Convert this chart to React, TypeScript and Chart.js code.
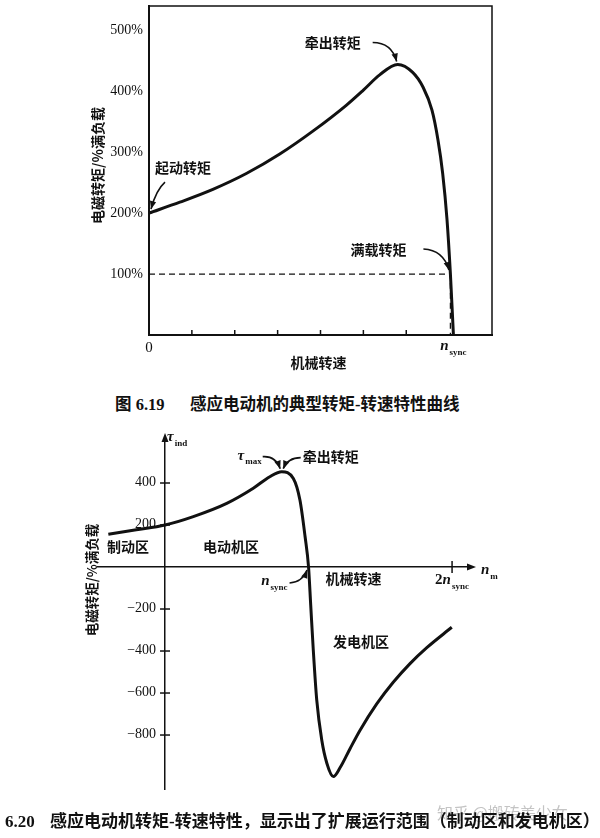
import React, { useEffect, useRef } from 'react';
import { Chart, registerables } from 'chart.js';

Chart.register(...registerables);

// ---------- Figure 6.19 (top) ----------
const TOP_SPEED = [0, 0.72, 1.49, 2.27, 3.05, 3.83, 4.6, 5.0, 5.38, 5.8, 6.15, 6.39, 6.6, 6.74, 6.85, 6.95, 7.03, 7.1];
const TOP_TORQUE = [200, 218, 239, 265, 297, 335, 377, 402, 427, 444, 431, 407, 369, 320, 265, 190, 100, 0];
const TOP_Y_TICKS = [100, 200, 300, 400, 500];
const TOP_X_MARKS = [1, 2, 3, 4, 5, 6];
const TOP_X_RANGE = [0, 8];
const TOP_Y_RANGE = [0, 540];
const TOP_NSYNC = 7.1;
const FULL_LOAD = { speed: 7.03, torque: 100 };
const PULLOUT_TOP = { speed: 5.8, torque: 444 };
const START_TOP = { speed: 0, torque: 200 };

// ---------- Figure 6.20 (bottom) ----------
const BOT_SPEED = [-0.395, -0.2, 0, 0.197, 0.43, 0.615, 0.73, 0.813, 0.894, 0.94, 0.976, 1.0, 1.015, 1.033, 1.057, 1.092, 1.127, 1.173, 1.22, 1.289, 1.359, 1.475, 1.59, 1.707, 1.824, 1.998];
const BOT_TORQUE = [156, 177, 200, 240, 303, 375, 430, 454, 422, 319, 144, 0, -180, -395, -633, -824, -933, -998, -955, -865, -777, -652, -549, -460, -384, -287];
const BOT_Y_TICKS = [-800, -600, -400, -200, 200, 400];
const BOT_X_RANGE = [-0.467, 2.111];
const BOT_Y_RANGE = [-1057, 600];
const BOT_NSYNC = 1;
const BOT_2NSYNC = 2;
const BOT_PEAK = { speed: 0.813, torque: 454 };

const CJK = '"Noto Sans CJK SC", sans-serif';
const SERIF = '"Liberation Serif", "Times New Roman", serif';
const INK = '#111';

function arrow(ctx: CanvasRenderingContext2D, x0: number, y0: number, cx: number, cy: number, x1: number, y1: number) {
  ctx.lineWidth = 1.6;
  ctx.beginPath();
  ctx.moveTo(x0, y0);
  ctx.quadraticCurveTo(cx, cy, x1, y1);
  ctx.stroke();
  const ang = Math.atan2(y1 - cy, x1 - cx);
  const L = 8, W = 3.2;
  const c = Math.cos(ang), s = Math.sin(ang);
  ctx.beginPath();
  ctx.moveTo(x1, y1);
  ctx.lineTo(x1 - L * c + W * s, y1 - L * s - W * c);
  ctx.lineTo(x1 - L * c - W * s, y1 - L * s + W * c);
  ctx.closePath();
  ctx.fill();
}

function subLabel(ctx: CanvasRenderingContext2D, x: number, y: number, pre: string, main: string, sub: string, size: number, align: string) {
  const fPre = `bold ${size}px ${SERIF}`;
  const fMain = `italic bold ${size}px ${SERIF}`;
  const fSub = `bold ${Math.round(size * 0.62)}px ${SERIF}`;
  ctx.textBaseline = 'alphabetic';
  ctx.textAlign = 'left';
  ctx.font = fPre; const w1 = pre ? ctx.measureText(pre).width : 0;
  ctx.font = fMain; const w2 = ctx.measureText(main).width;
  ctx.font = fSub; const w3 = ctx.measureText(sub).width;
  const total = w1 + w2 + 1 + w3;
  let sx = align === 'center' ? x - total / 2 : align === 'right' ? x - total : x;
  if (pre) { ctx.font = fPre; ctx.fillText(pre, sx, y); }
  sx += w1;
  ctx.font = fMain; ctx.fillText(main, sx, y);
  sx += w2 + 1;
  ctx.font = fSub; ctx.fillText(sub, sx, y + size * 0.3);
}

function cjk(ctx: CanvasRenderingContext2D, text: string, x: number, y: number, align: CanvasTextAlign = 'left', size = 14) {
  ctx.font = `bold ${size}px ${CJK}`;
  ctx.textAlign = align;
  ctx.textBaseline = 'middle';
  ctx.fillText(text, x, y);
}

const topDecor = {
  id: 'topDecor',
  afterDatasetsDraw(chart: any) {
    const { ctx, chartArea: a, scales: { x, y } } = chart;
    ctx.save();
    ctx.strokeStyle = INK;
    ctx.fillStyle = INK;
    ctx.lineWidth = 1.5;
    ctx.beginPath();
    ctx.moveTo(a.left, a.top);
    ctx.lineTo(a.right, a.top);
    ctx.lineTo(a.right, a.bottom);
    ctx.stroke();
    TOP_X_MARKS.forEach((v) => {
      const px = x.getPixelForValue(v);
      ctx.beginPath();
      ctx.moveTo(px, a.bottom);
      ctx.lineTo(px, a.bottom - 5);
      ctx.stroke();
    });
    subLabel(ctx, x.getPixelForValue(TOP_NSYNC), a.bottom + 15, '', 'n', 'sync', 15, 'center');
    cjk(ctx, '机械转速', (a.left + a.right) / 2 - 2, a.bottom + 28, 'center');
    ctx.save();
    ctx.translate(a.left - 51, (a.top + a.bottom) / 2 - 5);
    ctx.rotate(-Math.PI / 2);
    cjk(ctx, '电磁转矩/%满负载', 0, 0, 'center');
    ctx.restore();
    const s = { x: x.getPixelForValue(START_TOP.speed), y: y.getPixelForValue(START_TOP.torque) };
    cjk(ctx, '起动转矩', s.x + 6, s.y - 45);
    arrow(ctx, s.x + 16, s.y - 31, s.x + 7, s.y - 23, s.x + 2, s.y - 4);
    const p = { x: x.getPixelForValue(PULLOUT_TOP.speed), y: y.getPixelForValue(PULLOUT_TOP.torque) };
    cjk(ctx, '牵出转矩', p.x - 93, p.y - 22);
    arrow(ctx, p.x - 25, p.y - 22, p.x - 6, p.y - 22, p.x - 1, p.y - 3);
    const f = { x: x.getPixelForValue(FULL_LOAD.speed), y: y.getPixelForValue(FULL_LOAD.torque) };
    cjk(ctx, '满载转矩', f.x - 100, f.y - 24);
    arrow(ctx, f.x - 27, f.y - 25, f.x - 7, f.y - 24, f.x - 1.5, f.y - 4);
    ctx.restore();
  },
};

const botDecor = {
  id: 'botDecor',
  afterDatasetsDraw(chart: any) {
    const { ctx, chartArea: a, scales: { x, y } } = chart;
    const x0 = x.getPixelForValue(0);
    const y0 = y.getPixelForValue(0);
    ctx.save();
    ctx.strokeStyle = INK;
    ctx.fillStyle = INK;
    ctx.beginPath();
    ctx.moveTo(a.right + 8, y0);
    ctx.lineTo(a.right - 1, y0 - 3.5);
    ctx.lineTo(a.right - 1, y0 + 3.5);
    ctx.closePath();
    ctx.fill();
    ctx.beginPath();
    ctx.moveTo(x0, a.top - 8);
    ctx.lineTo(x0 - 3.5, a.top + 1);
    ctx.lineTo(x0 + 3.5, a.top + 1);
    ctx.closePath();
    ctx.fill();
    ctx.lineWidth = 1.5;
    y.ticks.forEach((t: any) => {
      const py = y.getPixelForValue(t.value);
      ctx.beginPath();
      ctx.moveTo(x0 - 5, py);
      ctx.lineTo(x0 + 5, py);
      ctx.stroke();
      ctx.font = `14px ${SERIF}`;
      ctx.textAlign = 'right';
      ctx.textBaseline = 'middle';
      ctx.fillText(t.value < 0 ? '\u2212' + Math.abs(t.value) : String(t.value), x0 - 9, py - 1);
    });
    const x2 = x.getPixelForValue(BOT_2NSYNC);
    ctx.beginPath();
    ctx.moveTo(x2, y0 - 6);
    ctx.lineTo(x2, y0 + 6);
    ctx.stroke();
    subLabel(ctx, x0 + 2, a.top, '', 'τ', 'ind', 15, 'left');
    subLabel(ctx, a.right + 13, y0 + 7, '', 'n', 'm', 15, 'left');
    subLabel(ctx, x2 - 17, y0 + 17, '2', 'n', 'sync', 15, 'left');
    const n = { x: x.getPixelForValue(BOT_NSYNC), y: y0 };
    subLabel(ctx, n.x - 21, n.y + 18, '', 'n', 'sync', 15, 'right');
    arrow(ctx, n.x - 19, n.y + 16, n.x - 6, n.y + 15, n.x - 1.5, n.y + 3);
    cjk(ctx, '机械转速', n.x + 17, n.y + 12);
    const p = { x: x.getPixelForValue(BOT_PEAK.speed), y: y.getPixelForValue(BOT_PEAK.torque) };
    subLabel(ctx, p.x - 20, p.y - 12, '', 'τ', 'max', 15, 'right');
    arrow(ctx, p.x - 19, p.y - 15, p.x - 6, p.y - 16, p.x - 1.5, p.y - 3);
    cjk(ctx, '牵出转矩', p.x + 21, p.y - 15);
    arrow(ctx, p.x + 19, p.y - 14, p.x + 6, p.y - 14, p.x + 1.5, p.y - 3);
    cjk(ctx, '制动区', a.left + 9, y0 - 20);
    cjk(ctx, '电动机区', x0 + 38, y0 - 20);
    cjk(ctx, '发电机区', x0 + 168, y0 + 75);
    ctx.save();
    ctx.translate(a.left - 6, y0 + 13);
    ctx.rotate(-Math.PI / 2);
    cjk(ctx, '电磁转矩/%满负载', 0, 0, 'center', 13.5);
    ctx.restore();
    ctx.restore();
  },
};

export default function App() {
  const c1 = useRef<HTMLCanvasElement>(null);
  const c2 = useRef<HTMLCanvasElement>(null);

  useEffect(() => {
    const top = new Chart(c1.current as HTMLCanvasElement, {
      type: 'line',
      data: {
        datasets: [
          {
            data: TOP_SPEED.map((s, i) => ({ x: s, y: TOP_TORQUE[i] })),
            borderColor: INK,
            borderWidth: 3,
            pointRadius: 0,
            cubicInterpolationMode: 'monotone',
            fill: false,
          },
          {
            data: [
              { x: TOP_X_RANGE[0], y: FULL_LOAD.torque },
              { x: FULL_LOAD.speed, y: FULL_LOAD.torque },
              { x: FULL_LOAD.speed, y: TOP_Y_RANGE[0] },
            ],
            borderColor: INK,
            borderWidth: 1.3,
            borderDash: [6, 4],
            pointRadius: 0,
            tension: 0,
            fill: false,
          },
        ],
      },
      options: {
        responsive: false,
        animation: false,
        events: [],
        layout: { padding: { left: 0, top: 6, right: 108, bottom: 0 } },
        plugins: { legend: { display: false }, tooltip: { enabled: false } },
        scales: {
          x: {
            type: 'linear',
            min: TOP_X_RANGE[0],
            max: TOP_X_RANGE[1],
            grid: { display: false, drawTicks: false },
            border: { color: INK, width: 2 },
            ticks: { font: { family: SERIF, size: 15 }, color: INK, padding: 4, maxRotation: 0, autoSkip: false, callback: (v: any) => String(v) },
            afterBuildTicks: (s: any) => { s.ticks = [{ value: TOP_X_RANGE[0] }]; },
            afterFit: (s: any) => { s.height = 45; s.paddingLeft = 0; s.paddingRight = 0; },
          },
          y: {
            type: 'linear',
            min: TOP_Y_RANGE[0],
            max: TOP_Y_RANGE[1],
            grid: { display: false, drawTicks: false },
            border: { color: INK, width: 2 },
            ticks: { font: { family: SERIF, size: 14 }, color: INK, padding: 6, callback: (v: any) => v + '%' },
            afterBuildTicks: (s: any) => { s.ticks = TOP_Y_TICKS.map((v) => ({ value: v })); },
            afterFit: (s: any) => { s.width = 149; s.paddingTop = 0; s.paddingBottom = 0; },
          },
        },
      } as any,
      plugins: [topDecor],
    });

    const bot = new Chart(c2.current as HTMLCanvasElement, {
      type: 'line',
      data: {
        datasets: [
          {
            data: BOT_SPEED.map((s, i) => ({ x: s, y: BOT_TORQUE[i] })),
            borderColor: INK,
            borderWidth: 3,
            pointRadius: 0,
            cubicInterpolationMode: 'monotone',
            fill: false,
          },
        ],
      },
      options: {
        responsive: false,
        animation: false,
        events: [],
        layout: { padding: { left: 98, top: 21, right: 132, bottom: 49 } },
        plugins: { legend: { display: false }, tooltip: { enabled: false } },
        scales: {
          x: {
            type: 'linear',
            min: BOT_X_RANGE[0],
            max: BOT_X_RANGE[1],
            position: { y: 0 },
            grid: { display: false, drawTicks: false },
            border: { color: INK, width: 1.5 },
            ticks: { display: false },
          },
          y: {
            type: 'linear',
            min: BOT_Y_RANGE[0],
            max: BOT_Y_RANGE[1],
            position: { x: 0 },
            grid: { display: false, drawTicks: false },
            border: { color: INK, width: 1.5 },
            ticks: { display: false },
            afterBuildTicks: (s: any) => { s.ticks = BOT_Y_TICKS.map((v) => ({ value: v })); },
          },
        },
      } as any,
      plugins: [botDecor],
    });

    return () => {
      top.destroy();
      bot.destroy();
    };
  }, []);

  const cap: React.CSSProperties = {
    position: 'absolute',
    whiteSpace: 'nowrap',
    fontWeight: 'bold',
    color: INK,
    fontFamily: '"Liberation Serif", "Noto Sans CJK SC", serif',
  };

  return (
    <div style={{ position: 'absolute', left: 0, top: 0, width: 600, height: 838, background: '#fff', overflow: 'hidden' }}>
      <canvas ref={c1} width={600} height={380} style={{ position: 'absolute', left: 0, top: 0, width: 600, height: 380 }} />
      <canvas ref={c2} width={600} height={418} style={{ position: 'absolute', left: 0, top: 420, width: 600, height: 418 }} />
      <span style={{ ...cap, left: 115, top: 394, fontSize: 16.5, lineHeight: '22px' }}>图 6.19</span>
      <span style={{ ...cap, left: 190, top: 394, fontSize: 16.5, lineHeight: '22px' }}>感应电动机的典型转矩-转速特性曲线</span>
      <span style={{ position: 'absolute', left: 437, top: 801, fontSize: 16, lineHeight: '22px', color: '#c4c4c4', whiteSpace: 'nowrap', fontFamily: '"Noto Sans CJK SC", sans-serif' }}>知乎 @搬砖美少女</span>
      <span style={{ ...cap, left: 5, top: 811, fontSize: 17, lineHeight: '22px' }}>6.20</span>
      <span style={{ ...cap, left: 50, top: 811, fontSize: 17, lineHeight: '22px' }}>感应电动机转矩-转速特性，显示出了扩展运行范围（制动区和发电机区）</span>
    </div>
  );
}
